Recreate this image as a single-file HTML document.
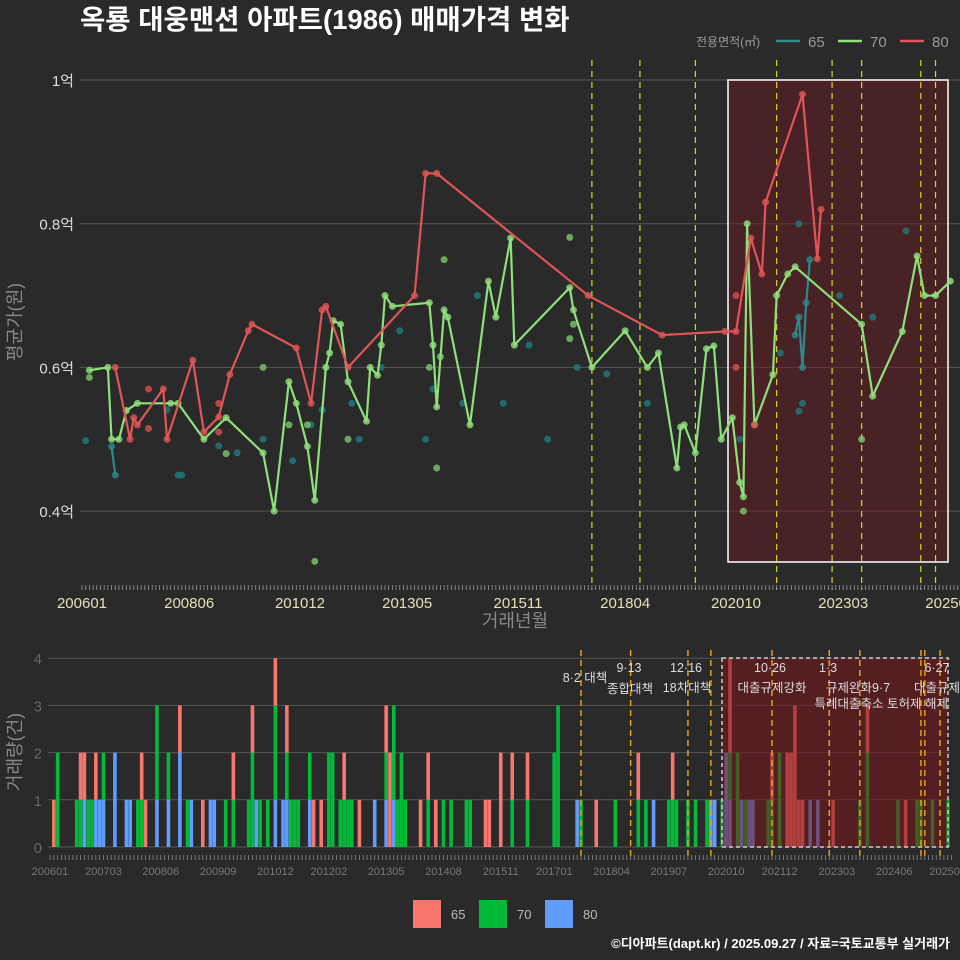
<!DOCTYPE html>
<html><head><meta charset="utf-8">
<style>
body{margin:0;background:#2a2a2b;}
svg{display:block;font-family:"Liberation Sans","Noto Sans CJK KR",sans-serif;}
</style></head>
<body>
<svg id="chart" width="960" height="960" viewBox="0 0 960 960" xmlns="http://www.w3.org/2000/svg">
<rect x="0" y="0" width="960" height="960" fill="#2a2a2b"/>
<text x="80" y="29" font-size="27.5" font-weight="bold" fill="#ffffff">옥룡 대웅맨션 아파트(1986) 매매가격 변화</text>
<g font-size="15" fill="#9a9a9a">
<text x="696" y="46" font-size="12">전용면적(㎡)</text>
<line x1="776" y1="41" x2="800" y2="41" stroke="#2a8a8e" stroke-width="2.5"/>
<text x="808" y="47">65</text>
<line x1="838" y1="41" x2="862" y2="41" stroke="#8ee07a" stroke-width="2.5"/>
<text x="870" y="47">70</text>
<line x1="900" y1="41" x2="924" y2="41" stroke="#e05555" stroke-width="2.5"/>
<text x="932" y="47">80</text>
</g>
<g id="topPanel"></g>
<g id="botPanel"></g>
<g font-size="13" fill="#bbbbbb">
<rect x="413" y="900" width="28" height="28" fill="#f8766d"/>
<text x="451" y="919">65</text>
<rect x="479" y="900" width="28" height="28" fill="#00ba38"/>
<text x="517" y="919">70</text>
<rect x="545" y="900" width="28" height="28" fill="#619cff"/>
<text x="583" y="919">80</text>
</g>
<text x="950" y="948" text-anchor="end" font-size="13" font-weight="bold" fill="#ffffff">©디아파트(dapt.kr) / 2025.09.27 / 자료=국토교통부 실거래가</text>
</svg>
<script>
// ---- data ----
const topTickMonths = [0,29,59,88,118,147,177,206,235];
const topTickLabels = ["200601","200806","201012","201305","201511","201804","202010","202303","202508"];
const yTickValues = [0.4,0.6,0.8,1.0];
const yTickLabels = ["0.4억","0.6억","0.8억","1억"];
const line70 = [[2,0.596],[7,0.600],[8,0.500],[10,0.500],[12,0.540],[15,0.550],[24,0.550],[26,0.550],[33,0.500],[39,0.530],[49,0.481],[52,0.400],[56,0.580],[58,0.550],[61,0.490],[63,0.415],[66,0.600],[67,0.620],[68,0.665],[70,0.660],[72,0.580],[77,0.525],[78,0.600],[80,0.589],[81,0.631],[82,0.700],[84,0.685],[94,0.690],[95,0.631],[96,0.545],[98,0.680],[99,0.670],[105,0.520],[110,0.720],[112,0.670],[116,0.780],[117,0.631],[132,0.711],[133,0.680],[138,0.600],[147,0.651],[153,0.600],[156,0.620],[161,0.460],[162,0.517],[163,0.520],[166,0.481],[169,0.626],[171,0.630],[173,0.500],[176,0.530],[178,0.440],[179,0.420],[180,0.800],[182,0.520],[187,0.590],[188,0.700],[191,0.730],[193,0.740],[211,0.660],[214,0.560],[222,0.650],[226,0.755],[228,0.700],[231,0.700],[235,0.720]];
const line80 = [[9,0.600],[13,0.500],[14,0.530],[15,0.520],[22,0.570],[23,0.500],[30,0.610],[33,0.510],[37,0.531],[40,0.590],[45,0.651],[46,0.660],[58,0.627],[62,0.550],[65,0.680],[66,0.685],[72,0.600],[90,0.700],[93,0.870],[96,0.870],[137,0.700],[157,0.645],[174,0.650],[177,0.650],[181,0.780],[184,0.730],[185,0.830],[195,0.980],[199,0.751],[200,0.820]];
const line65a = [[8,0.490],[9,0.450]];
const line65b = [[193,0.645],[194,0.670],[195,0.600],[196,0.690],[197,0.750]];
const dots65 = [[1,0.498],[23,0.541],[26,0.450],[27,0.450],[37,0.491],[42,0.481],[49,0.500],[57,0.470],[62,0.520],[65,0.541],[73,0.550],[75,0.500],[81,0.600],[86,0.651],[93,0.500],[95,0.570],[103,0.550],[107,0.700],[114,0.550],[121,0.631],[126,0.500],[134,0.600],[142,0.591],[153,0.550],[178,0.500],[189,0.620],[194,0.800],[195,0.550],[194,0.539],[205,0.700],[214,0.670],[223,0.790]];
const dots70 = [[2,0.586],[63,0.330],[96,0.460],[98,0.750],[132,0.781],[49,0.600],[56,0.520],[39,0.480],[179,0.400],[211,0.500],[72,0.500],[61,0.520],[132,0.640],[133,0.660],[94,0.600],[97,0.615]];
const dots80 = [[18,0.570],[18,0.515],[37,0.550],[37,0.510],[177,0.700],[177,0.600],[182,0.520]];
const eventMonths = [138,151,166,188,203,211,227,231];
const botEventMonths = [139,152,167,173,189,204,212,228,229,233];
const botTickMonths = [0,14,29,44,59,73,88,103,118,132,147,162,177,191,206,221,235];
const botTickLabels = ["200601","200703","200806","200909","201012","201202","201305","201408","201511","201701","201804","201907","202010","202112","202303","202406","202508"];
const countTicks = [0,1,2,3,4];
const volMonths = [1,2,7,8,9,10,11,12,13,14,17,20,21,23,24,25,28,31,34,36,37,40,42,43,46,48,52,53,54,55,57,59,61,62,63,64,65,68,69,71,73,74,76,77,78,79,81,85,88,89,90,91,92,93,97,99,101,103,105,109,110,114,115,118,121,125,132,133,138,139,143,148,154,156,158,162,163,164,167,169,172,173,174,176,177,178,180,181,182,183,184,188,189,191,193,194,195,196,197,199,201,205,212,214,222,224,227,228,231,235];
const vol80 = [0,0,0,0,1,0,0,1,1,1,2,1,1,0,0,0,1,1,2,0,1,0,1,1,0,0,0,0,1,0,0,1,1,1,0,0,0,1,0,0,0,0,0,0,0,0,0,1,1,0,1,0,0,0,0,0,0,0,0,0,0,0,0,0,0,0,0,0,1,0,0,0,0,0,1,0,0,0,0,0,0,1,1,0,2,1,0,1,0,1,1,0,0,0,0,0,0,0,0,1,1,0,0,0,0,0,0,0,0,0];
const vol70 = [0,2,1,1,0,1,1,0,0,1,0,0,0,1,1,0,2,1,0,1,0,0,0,0,1,1,1,2,0,1,1,2,0,1,1,1,1,1,0,0,2,2,1,1,1,1,0,0,1,0,2,1,2,1,0,1,0,1,1,1,1,0,0,0,1,1,2,3,0,1,0,1,1,1,0,1,1,1,1,1,1,0,0,1,0,1,2,0,1,0,0,1,1,2,0,0,0,0,0,0,0,0,1,2,1,0,1,1,1,1];
const vol65 = [1,0,0,1,1,0,0,1,0,0,0,0,0,0,1,1,0,0,1,0,0,1,0,0,0,1,0,1,0,0,0,1,0,1,0,0,0,0,1,1,0,0,0,1,0,0,1,0,1,2,0,0,0,0,1,1,1,0,0,0,0,1,1,2,1,1,0,0,0,0,1,0,1,0,0,0,1,0,0,0,0,0,0,0,0,2,0,0,0,0,0,0,1,0,2,2,3,1,1,0,0,1,0,1,0,1,0,0,0,0];

// ---- axes ----
const NS="http://www.w3.org/2000/svg";
const xT = m => 82 + m*3.695;
const yT = v => 80 + (1-v)*718.5;
const xB = m => 50 + m*3.82;
const yB = c => 847 - c*47.2;
function mk(parent, tag, attrs){const e=document.createElementNS(NS,tag);for(const k in attrs)e.setAttribute(k,attrs[k]);parent.appendChild(e);return e;}
const topG=document.getElementById('topPanel'), botG=document.getElementById('botPanel');

yTickValues.forEach((v,i)=>{
  const g=mk(topG,'line',{x1:80,x2:960,y1:yT(v),y2:yT(v),stroke:'#555555','stroke-width':1});
  
  
  const t=mk(topG,'text',{x:74,y:yT(v)+6,'text-anchor':'end','font-size':15,fill:'#dddddd'});
  t.textContent=yTickLabels[i];
  
  
});
const sh=mk(topG,'rect',{x:728,y:80,width:220,height:482,fill:'rgba(110,25,30,0.45)',stroke:'#ffffff','stroke-width':1.5});


eventMonths.forEach(m=>{
  const l=mk(topG,'line',{x1:xT(m),x2:xT(m),y1:60,y2:590,stroke:'#d8d820','stroke-width':1.2,'stroke-dasharray':'6,5'});
  
  
});
for(let m=0;m<=237;m++){
  const l=mk(topG,'line',{x1:xT(m),x2:xT(m),y1:585,y2:590,stroke:'#999','stroke-width':0.8});
  
  
}
topTickMonths.forEach((m,i)=>{
  const t=mk(topG,'text',{x:xT(m),y:608,'text-anchor':'middle','font-size':15,fill:'#e6e0b8'});
  t.textContent=topTickLabels[i];
  
  
});
const xt=mk(topG,'text',{x:515,y:627,'text-anchor':'middle','font-size':18,fill:'#888888'});
xt.textContent='거래년월';


const yt=mk(topG,'text',{x:0,y:0,'text-anchor':'middle','font-size':18,fill:'#888888',transform:'translate(21,322) rotate(-90)'});
yt.textContent='평균가(원)';



function drawDots(arr,color,name){
  arr.forEach(d=>{
    const c=mk(topG,'circle',{cx:xT(d[0]),cy:yT(d[1]),r:3.5,fill:color,opacity:0.8});
    
    
  });
}
function drawLine(arr,color,name){
  const p=mk(topG,'polyline',{points:arr.map(d=>xT(d[0])+','+yT(d[1])).join(' '),fill:'none',stroke:color,'stroke-width':2.2,'stroke-linejoin':'round'});
  
  
}
drawDots(dots65,'#1f7a80','point-65');
drawLine(line65a,'#2a8a8e','line-65');
drawLine(line65b,'#2a8a8e','line-65');
drawDots(line65a,'#2a8a8e','point-65');
drawDots(line65b,'#2a8a8e','point-65');
drawDots(dots70,'#7cc86a','point-70');
drawLine(line70,'#8ee07a','line-70');
drawDots(line70,'#8ee07a','point-70');
drawDots(dots80,'#d85050','point-80');
drawLine(line80,'#e05555','line-80');
drawDots(line80,'#e05555','point-80');

countTicks.forEach(c=>{
  const g=mk(botG,'line',{x1:48,x2:950,y1:yB(c),y2:yB(c),stroke:'#555555','stroke-width':1});
  
  
  const t=mk(botG,'text',{x:42,y:yB(c)+6,'text-anchor':'end','font-size':15,fill:'#666666'});
  t.textContent=c;
  
  
});
volMonths.forEach((m,i)=>{
  let base=0;
  [[vol80[i],'#619cff'],[vol70[i],'#00ba38'],[vol65[i],'#f8766d']].forEach(s=>{
    if(s[0]>0){
      const r=mk(botG,'rect',{x:xB(m)-1.8,y:yB(base+s[0]),width:3.6,height:s[0]*47.2,fill:s[1]});
      
      
      base+=s[0];
    }
  });
});
const sh2=mk(botG,'rect',{x:722,y:658,width:226,height:189,fill:'rgba(120,20,25,0.55)',stroke:'#cccccc','stroke-width':1.5,'stroke-dasharray':'4,3'});


botEventMonths.forEach(m=>{
  const l=mk(botG,'line',{x1:xB(m),x2:xB(m),y1:650,y2:858,stroke:'#e0a020','stroke-width':1.5,'stroke-dasharray':'6,4'});
  
  
});
for(let m=0;m<=236;m++){
  const l=mk(botG,'line',{x1:xB(m),x2:xB(m),y1:855,y2:860,stroke:'#888','stroke-width':0.8});
  
  
}
botTickMonths.forEach((m,i)=>{
  const t=mk(botG,'text',{x:xB(m),y:875,'text-anchor':'middle','font-size':11,fill:'#777777'});
  t.textContent=botTickLabels[i];
  
  
});
const yt2=mk(botG,'text',{x:0,y:0,'text-anchor':'middle','font-size':18,fill:'#888888',transform:'translate(21,752) rotate(-90)'});
yt2.textContent='거래량(건)';


const notes=[[585,682,'8·2 대책','middle'],[629,672,'9·13','middle'],[630,693,'종합대책','middle'],[686,672,'12·16','middle'],[687,692,'18차대책','middle'],[770,672,'10·26','middle'],[772,692,'대출규제강화','middle'],[828,672,'1·3','middle'],[858,692,'규제완화9·7','middle'],[948,708,'특례대출축소 토허제 해제','end'],[937,672,'6·27','middle'],[960,692,'대출규제','end']];
notes.forEach(n=>{
  const t=mk(botG,'text',{x:n[0],y:n[1],'text-anchor':n[3],'font-size':12.5,fill:'#dddddd'});
  t.textContent=n[2];
  
  
});
</script>
</body></html>
